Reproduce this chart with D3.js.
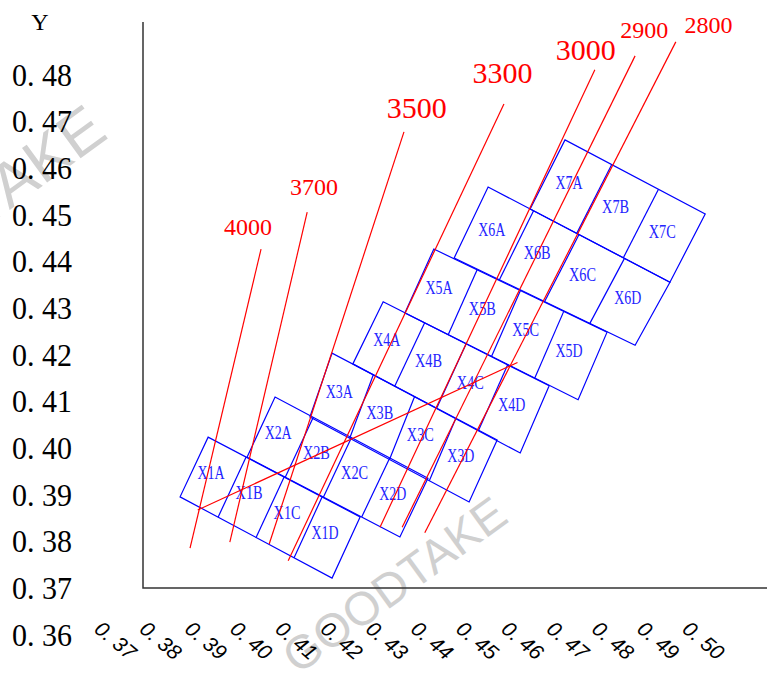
<!DOCTYPE html>
<html>
<head>
<meta charset="utf-8">
<script src="https://cdn.jsdelivr.net/npm/d3@7"></script>
<style>
  body { margin: 0; background: #fff; }
  svg { display: block; }
</style>
</head>
<body>
<div id="chart"></div>
<script>
// tick values and the labels as they are printed
var xTicks = [0.37, 0.38, 0.39, 0.40, 0.41, 0.42, 0.43, 0.44, 0.45, 0.46, 0.47, 0.48, 0.49, 0.50];
var xTickLabels = ["0. 37", "0. 38", "0. 39", "0. 40", "0. 41", "0. 42", "0. 43", "0. 44", "0. 45", "0. 46", "0. 47", "0. 48", "0. 49", "0. 50"];
var yTicks = [0.36, 0.37, 0.38, 0.39, 0.40, 0.41, 0.42, 0.43, 0.44, 0.45, 0.46, 0.47, 0.48];
var yTickLabels = ["0. 36", "0. 37", "0. 38", "0. 39", "0. 40", "0. 41", "0. 42", "0. 43", "0. 44", "0. 45", "0. 46", "0. 47", "0. 48"];

// block rows X1..X7, corner points (x, y)
var rowNames = ["X1", "X2", "X3", "X4", "X5", "X6", "X7"];
var cellNames = ["A", "B", "C", "D"];
var rowCellCount = [4, 4, 4, 4, 4, 4, 3];
var rowBottomLeft  = [[0.3866, 0.3896], [0.4014, 0.3981], [0.4153, 0.4067], [0.4248, 0.4181], [0.4363, 0.4290], [0.4472, 0.4408], [0.4640, 0.4513]];
var rowBottomRight = [[0.4202, 0.3722], [0.4352, 0.3810], [0.4505, 0.3885], [0.4618, 0.3990], [0.4746, 0.4104], [0.4872, 0.4221], [0.4949, 0.4356]];
var rowTopRight    = [[0.4264, 0.3853], [0.4414, 0.3936], [0.4567, 0.4018], [0.4682, 0.4134], [0.4810, 0.4249], [0.4949, 0.4356], [0.5027, 0.4502]];
var rowTopLeft     = [[0.3928, 0.4024], [0.4076, 0.4110], [0.4202, 0.4204], [0.4315, 0.4314], [0.4427, 0.4427], [0.4547, 0.4560], [0.4717, 0.4661]];

// red contour lines
var isoValues = [4000, 3700, 3500, 3300, 3000, 2900, 2800];
var isoTop    = [[0.4045, 0.4427], [0.4147, 0.4506], [0.4361, 0.4678], [0.4582, 0.4738], [0.4783, 0.4811], [0.4872, 0.4841], [0.4962, 0.4871]];
var isoBottom = [[0.3888, 0.3786], [0.3976, 0.3799], [0.4063, 0.3795], [0.4105, 0.3759], [0.4308, 0.3831], [0.4357, 0.3831], [0.4407, 0.3819]];
var isoLabelAt = [[0.4016, 0.4457], [0.4162, 0.4543], [0.4389, 0.4708], [0.4579, 0.4783], [0.4763, 0.4832], [0.4892, 0.4879], [0.5034, 0.4890]];
var bigIsoLabels = [3500, 3300, 3000];

// the long red line across the blocks
var crossLine = [[0.3905, 0.3868], [0.4612, 0.4184]];

var W = 767, H = 675;
var frame = {left: 143, top: 22, bottom: 588, right: 767};

var x = d3.scaleLinear().domain([0.37, 0.50]).range([105, 693]);
var y = d3.scaleLinear().domain([0.36, 0.48]).range([635, 75]);

var svg = d3.select("#chart").append("svg")
    .attr("width", W)
    .attr("height", H);

// watermarks
var wm = svg.append("g")
    .attr("fill", "#d0d0d0")
    .attr("font-family", "Liberation Sans, Arial, sans-serif");
wm.append("text")
    .attr("transform", "translate(110,137) rotate(-36)")
    .attr("text-anchor", "end")
    .attr("font-size", 62)
    .text("GOODTAKE");
wm.append("text")
    .attr("transform", "translate(404,598) rotate(-36)")
    .attr("text-anchor", "middle")
    .attr("font-size", 47)
    .text("GOODTAKE");

// axis frame
svg.append("path")
    .attr("d", "M" + frame.left + "," + frame.top + "V" + frame.bottom + "H" + frame.right)
    .attr("fill", "none")
    .attr("stroke", "#333")
    .attr("stroke-width", 1.5);

svg.append("text")
    .attr("x", 40).attr("y", 30)
    .attr("text-anchor", "middle")
    .attr("font-family", "Liberation Serif, serif")
    .attr("font-size", 24)
    .text("Y");

// y tick labels
svg.append("g").selectAll("text")
    .data(yTicks)
    .join("text")
    .attr("x", 12)
    .attr("y", function(d) { return y(d); })
    .attr("dominant-baseline", "central")
    .attr("font-family", "Liberation Serif, serif")
    .attr("font-size", 31)
    .attr("textLength", 60)
    .attr("lengthAdjust", "spacingAndGlyphs")
    .text(function(d, i) { return yTickLabels[i]; });

// x tick labels (slanted)
svg.append("g").selectAll("text")
    .data(xTicks)
    .join("text")
    .attr("transform", function(d) { return "translate(" + (x(d) - 12) + ",631) rotate(40)"; })
    .attr("font-family", "Liberation Sans, Arial, sans-serif")
    .attr("font-style", "italic")
    .attr("font-size", 21)
    .text(function(d, i) { return xTickLabels[i]; });

function pt(p) { return [x(p[0]), y(p[1])]; }
function lerp(a, b, t) { return [a[0] + (b[0] - a[0]) * t, a[1] + (b[1] - a[1]) * t]; }

// blocks
var blocks = svg.append("g")
    .attr("fill", "none")
    .attr("stroke", "#0000ff")
    .attr("stroke-width", 1.2);
var cellLabels = [];

rowNames.forEach(function(name, i) {
    var bl = pt(rowBottomLeft[i]), br = pt(rowBottomRight[i]),
        tr = pt(rowTopRight[i]), tl = pt(rowTopLeft[i]);
    var n = rowCellCount[i];
    blocks.append("path")
        .attr("d", d3.line()([bl, br, tr, tl]) + "Z");
    for (var k = 1; k < n; k++) {
        blocks.append("path")
            .attr("d", d3.line()([lerp(bl, br, k / n), lerp(tl, tr, k / n)]));
    }
    for (var k = 0; k < n; k++) {
        var a = lerp(bl, br, k / n), b = lerp(bl, br, (k + 1) / n),
            c = lerp(tl, tr, (k + 1) / n), e = lerp(tl, tr, k / n);
        cellLabels.push({
            name: name + cellNames[k],
            cx: (a[0] + b[0] + c[0] + e[0]) / 4,
            cy: (a[1] + b[1] + c[1] + e[1]) / 4
        });
    }
});

svg.append("g").selectAll("text")
    .data(cellLabels)
    .join("text")
    .attr("x", function(d) { return d.cx - 2; })
    .attr("y", function(d) { return d.cy - 4; })
    .attr("text-anchor", "middle")
    .attr("dominant-baseline", "central")
    .attr("fill", "#2424ff")
    .attr("font-family", "Liberation Serif, serif")
    .attr("font-size", 18)
    .attr("textLength", 27)
    .attr("lengthAdjust", "spacingAndGlyphs")
    .text(function(d) { return d.name; });

// red lines
var red = svg.append("g")
    .attr("stroke", "#ff0000")
    .attr("stroke-width", 1.2)
    .attr("fill", "none");
isoValues.forEach(function(v, i) {
    red.append("path").attr("d", d3.line()([pt(isoTop[i]), pt(isoBottom[i])]));
});
red.append("path").attr("d", d3.line()(crossLine.map(pt)));

svg.append("g").selectAll("text")
    .data(isoValues)
    .join("text")
    .attr("x", function(d, i) { return x(isoLabelAt[i][0]); })
    .attr("y", function(d, i) { return y(isoLabelAt[i][1]); })
    .attr("text-anchor", "middle")
    .attr("fill", "#ff0000")
    .attr("font-family", "Liberation Serif, serif")
    .attr("font-size", function(d) { return bigIsoLabels.indexOf(d) >= 0 ? 30 : 24; })
    .text(function(d) { return d; });
</script>
</body>
</html>
